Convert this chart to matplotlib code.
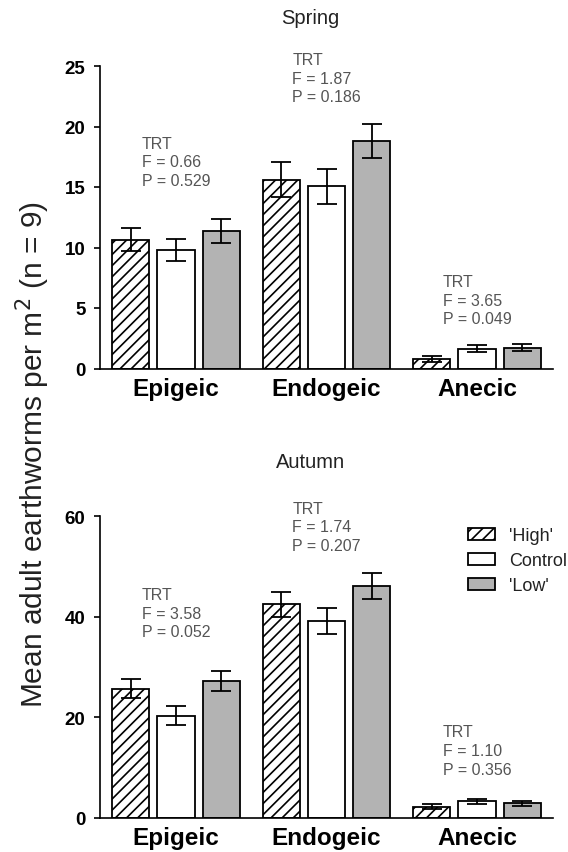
import numpy as np
import matplotlib
matplotlib.use("Agg")
import matplotlib.pyplot as plt
from matplotlib.patches import Patch

# ── data ─────────────────────────────────────────────────────────────────
groups = ["Epigeic", "Endogeic", "Anecic"]
treatments = ["'High'", "Control", "'Low'"]

spring_mean = {
    "'High'":  [10.65, 15.6, 0.77],
    "Control": [9.8, 15.05, 1.65],
    "'Low'":   [11.37, 18.8, 1.70],
}
spring_se = {
    "'High'":  [0.94, 1.46, 0.27],
    "Control": [0.94, 1.44, 0.28],
    "'Low'":   [0.96, 1.43, 0.29],
}
autumn_mean = {
    "'High'":  [25.7, 42.5, 2.2],
    "Control": [20.3, 39.1, 3.3],
    "'Low'":   [27.3, 46.1, 2.9],
}
autumn_se = {
    "'High'":  [1.9, 2.5, 0.5],
    "Control": [1.9, 2.6, 0.5],
    "'Low'":   [2.0, 2.6, 0.5],
}
spring_stats = [("0.66", "0.529"), ("1.87", "0.186"), ("3.65", "0.049")]
autumn_stats = [("3.58", "0.052"), ("1.74", "0.207"), ("1.10", "0.356")]

spring_ticks = [0, 5, 10, 15, 20, 25]
autumn_ticks = [0, 20, 40, 60]

# ── style ────────────────────────────────────────────────────────────────
plt.rcParams.update({
    "font.family": ["Liberation Sans", "DejaVu Sans"],
    "hatch.linewidth": 1.2,
    "axes.linewidth": 1.2,
})
GRAY = "#b3b3b3"
styles = {
    "'High'":  dict(facecolor="white", hatch="///"),
    "Control": dict(facecolor="white", hatch=None),
    "'Low'":   dict(facecolor=GRAY, hatch=None),
}
offsets = [-0.3, 0.0, 0.3]
width = 0.246

fig = plt.figure(figsize=(5.68, 8.53), dpi=100)
W, H = 568, 853


def px_axes(left, top, right, bottom):
    return fig.add_axes([left / W, 1 - bottom / H, (right - left) / W, (bottom - top) / H])


ax_sp = px_axes(100, 67, 553, 369.5)
ax_au = px_axes(100, 517, 553, 819)


def draw_panel(ax, means, ses, stats, ticks, ymax, text_tops):
    x = np.arange(len(groups))
    for trt, off in zip(treatments, offsets):
        st = styles[trt]
        ax.bar(x + off, means[trt], width, facecolor=st["facecolor"],
               edgecolor="black", linewidth=1.3, hatch=st["hatch"], zorder=2)
        ax.errorbar(x + off, means[trt], yerr=ses[trt], fmt="none",
                    ecolor="black", elinewidth=1.3, capsize=7.5,
                    capthick=1.3, zorder=3)
    for i, (f, p) in enumerate(stats):
        ax.text(i - 0.226, text_tops[i], f"TRT\nF = {f}\nP = {p}",
                ha="left", va="top", fontsize=11.5, color="#555555",
                linespacing=1.3)
    ax.set_xlim(-0.505, 2.505)
    ax.set_ylim(0, ymax)
    ax.set_yticks(ticks)
    ax.set_xticks(x)
    ax.set_xticklabels(groups, fontsize=17.5, fontweight="bold")
    ax.tick_params(axis="x", length=0, pad=6)
    ax.tick_params(axis="y", direction="out", length=4.5, width=1.2,
                   labelsize=13.5, pad=6)
    for lab in ax.get_yticklabels():
        lab.set_fontweight("bold")
    ax.spines["top"].set_visible(False)
    ax.spines["right"].set_visible(False)
    ax.patch.set_visible(False)


draw_panel(ax_sp, spring_mean, spring_se, spring_stats, spring_ticks, 25,
           [19.25, 26.15, 7.8])
draw_panel(ax_au, autumn_mean, autumn_se, autumn_stats, autumn_ticks, 60,
           [45.9, 63.0, 18.6])
for ax in (ax_sp, ax_au):
    for sp in ax.spines.values():
        sp.set_clip_on(False)

fig.text(310 / W, 1 - 18 / H, "Spring", ha="center", va="center",
         fontsize=14.5, color="#222222")
fig.text(311 / W, 1 - 463 / H, "Autumn", ha="center", va="center",
         fontsize=14.5, color="#222222")
fig.text(33 / W, 1 - 455 / H, "Mean adult earthworms per m$^2$ (n = 9)",
         rotation=90, ha="center", va="center", fontsize=21.5,
         color="#222222")

handles = [Patch(facecolor=styles[t]["facecolor"], edgecolor="black",
                 hatch=styles[t]["hatch"], linewidth=1.3) for t in treatments]
fig.legend(handles, treatments, loc="upper left",
           bbox_to_anchor=(468 / W, 1 - 528 / H), frameon=False,
           fontsize=13, handlelength=1.5, handleheight=0.65,
           handletextpad=0.75, labelspacing=0.45, borderpad=0,
           borderaxespad=0, labelcolor="#222222")

fig.savefig("out.png", dpi=100)
